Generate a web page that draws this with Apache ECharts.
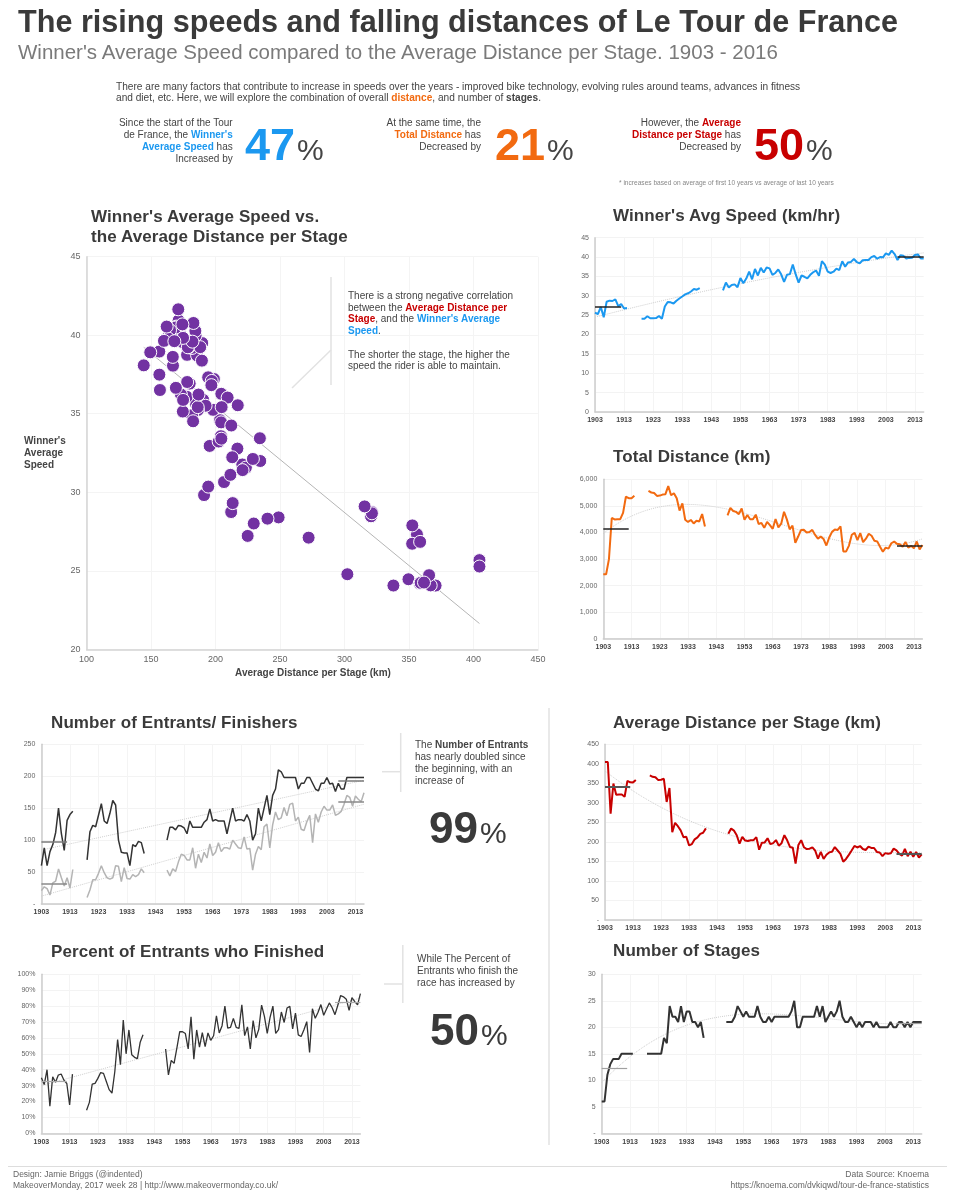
<!DOCTYPE html>
<html>
<head>
<meta charset="utf-8">
<script src="https://cdn.jsdelivr.net/npm/echarts/dist/echarts.min.js"></script>
<style>
  html,body{margin:0;padding:0;background:#fff;}
  body{width:955px;height:1200px;position:relative;overflow:hidden;font-family:'Liberation Sans',Arial,sans-serif;color:#444;}
  #c{position:absolute;left:0;top:0;width:955px;height:1200px;}
  .t{position:absolute;white-space:nowrap;pointer-events:none;}
  .h{font-weight:bold;font-size:17px;line-height:20px;color:#3a3a3a;letter-spacing:0.1px;}
  .n{font-size:10px;line-height:11.7px;color:#444;}
  .b{color:#1b98f0;} .o{color:#f26a10;} .r{color:#c80000;}
  .big{font-weight:bold;font-size:45px;line-height:45px;}
  .pct{font-size:30px;color:#444;margin-left:2px;}
  svg{position:absolute;left:0;top:0;pointer-events:none;}
</style>
</head>
<body>
<div id="c"></div>
<svg width="955" height="1200">
  <g stroke="#e2e2e2" stroke-width="1.5" fill="none">
    <line x1="331" y1="277" x2="331" y2="385"/>
    <line x1="331" y1="350" x2="292" y2="388"/>
    <line x1="400.7" y1="733" x2="400.7" y2="792"/>
    <line x1="382" y1="771.7" x2="400.7" y2="771.7"/>
    <line x1="402.8" y1="945" x2="402.8" y2="1003"/>
    <line x1="384" y1="984" x2="402.8" y2="984"/>
    <line x1="549" y1="708" x2="549" y2="1145"/>
    <line x1="8" y1="1166.5" x2="947" y2="1166.5" stroke="#dddddd" stroke-width="1"/>
  </g>
</svg>

<div class="t" style="left:18px;top:6px;font-weight:bold;font-size:30.6px;line-height:30px;color:#3a3a3a;">The rising speeds and falling distances of Le Tour de France</div>
<div class="t" style="left:18px;top:42px;font-size:20.5px;line-height:20px;color:#7a7a7a;">Winner's Average Speed compared to the Average Distance per Stage. 1903 - 2016</div>
<div class="t n" style="left:116px;top:80.5px;font-size:10.15px;">There are many factors that contribute to increase in speeds over the years - improved bike technology, evolving rules around teams, advances in fitness<br>and diet, etc. Here, we will explore the combination of overall <b class="o">distance</b>, and number of <b>stages</b>.</div>

<div class="t n" style="right:722.3px;top:117.4px;text-align:right;">Since the start of the Tour<br>de France, the <b class="b">Winner's</b><br><b class="b">Average Speed</b> has<br>Increased by</div>
<div class="t" style="left:245px;top:121.9px;"><span class="big b">47</span><span class="pct">%</span></div>

<div class="t n" style="right:474px;top:117.4px;text-align:right;">At the same time, the<br><b class="o">Total Distance</b> has<br>Decreased by</div>
<div class="t" style="left:495px;top:121.9px;"><span class="big o">21</span><span class="pct">%</span></div>

<div class="t n" style="right:214px;top:117.4px;text-align:right;">However, the <b class="r">Average</b><br><b class="r">Distance per Stage</b> has<br>Decreased by</div>
<div class="t" style="left:754px;top:121.9px;"><span class="big r">50</span><span class="pct">%</span></div>

<div class="t" style="left:619px;top:179px;font-size:6.6px;line-height:8px;color:#888;">* increases based on average of first 10 years vs average of last 10 years</div>

<div class="t h" style="left:91px;top:206.8px;">Winner's Average Speed vs.<br>the Average Distance per Stage</div>
<div class="t" style="left:24px;top:435.4px;font-weight:bold;font-size:10px;line-height:12px;color:#444;">Winner's<br>Average<br>Speed</div>
<div class="t" style="left:313px;top:666.5px;transform:translateX(-50%);font-weight:bold;font-size:10px;line-height:12px;color:#444;">Average Distance per Stage (km)</div>
<div class="t n" style="left:348px;top:290px;">There is a strong negative correlation<br>between the <b class="r">Average Distance per</b><br><b class="r">Stage</b>, and the <b class="b">Winner's Average</b><br><b class="b">Speed</b>.<br><br>The shorter the stage, the higher the<br>speed the rider is able to maintain.</div>

<div class="t h" style="left:613px;top:205.8px;">Winner's Avg Speed (km/hr)</div>
<div class="t h" style="left:613px;top:446.8px;">Total Distance (km)</div>
<div class="t h" style="left:613px;top:712.6px;">Average Distance per Stage (km)</div>
<div class="t h" style="left:613px;top:941.4px;">Number of Stages</div>
<div class="t h" style="left:51px;top:713.4px;">Number of Entrants/ Finishers</div>
<div class="t h" style="left:51px;top:941.8px;">Percent of Entrants who Finished</div>

<div class="t n" style="left:415px;top:738.8px;line-height:12px;">The <b>Number of Entrants</b><br>has nearly doubled since<br>the beginning, with an<br>increase of</div>
<div class="t" style="left:429px;top:806px;color:#3a3a3a;"><span class="big" style="font-size:44px;line-height:44px;">99</span><span class="pct" style="color:#3a3a3a;">%</span></div>

<div class="t n" style="left:417px;top:952.5px;line-height:12px;">While The Percent of<br>Entrants who finish the<br>race has increased by</div>
<div class="t" style="left:430px;top:1007.8px;color:#3a3a3a;"><span class="big" style="font-size:44px;line-height:44px;">50</span><span class="pct" style="color:#3a3a3a;">%</span></div>

<div class="t" style="left:13px;top:1169px;font-size:8.5px;line-height:11px;color:#666;">Design: Jamie Briggs (@indented)<br>MakeoverMonday, 2017 week 28 | http://www.makeovermonday.co.uk/</div>
<div class="t" style="right:26px;top:1169px;font-size:8.5px;line-height:11px;color:#666;text-align:right;">Data Source: Knoema<br>https://knoema.com/dvkiqwd/tour-de-france-statistics</div>

<script>
// ---------------- DATA (one entry per Tour edition) ----------------
const years = [
  1903,1904,1905,1906,1907,1908,1909,1910,1911,1912,1913,1914,
  1919,1920,1921,1922,1923,1924,1925,1926,1927,1928,1929,1930,1931,1932,1933,1934,1935,1936,1937,1938,1939,
  1947,1948,1949,1950,1951,1952,1953,1954,1955,1956,
  1957,1958,1959,1960,1961,1962,1963,1964,1965,1966,
  1967,1968,1969,1970,1971,1972,1973,1974,1975,1976,
  1977,1978,1979,1980,1981,1982,1983,1984,1985,1986,
  1987,1988,1989,1990,1991,1992,1993,1994,1995,1996,
  1997,1998,1999,2000,2001,2002,2003,2004,2005,2006,
  2007,2008,2009,2010,2011,2012,2013,2014,2015,2016
];
const winnerSpeed = [
  25.68,25.27,27.11,24.46,28.47,28.74,28.66,29.10,27.32,27.89,26.72,26.84,
  24.06,24.07,24.72,24.20,24.23,24.25,24.78,24.06,27.22,28.40,28.32,28.01,28.74,29.31,29.82,30.36,30.65,31.11,31.77,31.57,31.99,
  31.41,33.44,32.12,32.78,32.95,32.23,34.59,33.23,34.45,36.27,
  34.25,36.92,35.25,37.21,36.03,37.32,37.09,35.42,35.89,36.82,
  35.54,33.57,35.41,35.59,38.08,35.51,33.41,35.24,34.91,34.52,
  35.42,36.08,36.51,35.14,38.96,38.06,36.23,35.88,36.22,37.02,
  36.65,38.91,37.49,38.62,38.75,39.50,38.71,38.38,39.19,39.24,
  39.24,39.98,40.27,39.56,40.02,39.93,40.94,40.55,41.65,40.78,
  39.23,40.49,40.32,39.59,39.79,39.83,40.55,40.69,39.64,39.62
];
const totalDistanceKm = [
  2428,2428,2994,4545,4488,4497,4498,4734,5343,5289,5287,5380,
  5560,5503,5484,5375,5386,5425,5440,5745,5398,5476,5286,4822,5091,4479,4395,4470,4338,4442,4415,4694,4224,
  4640,4922,4808,4773,4690,4898,4476,4656,4495,4498,
  4669,4319,4358,4173,4397,4274,4138,4504,4188,4329,
  4779,4492,4117,4254,3608,3846,4090,4098,3999,4017,
  4096,3908,3765,3842,3753,3507,3809,4021,4109,4094,
  4231,3286,3285,3504,3914,3983,3714,3978,3635,3765,
  3950,3875,3687,3662,3458,3272,3427,3391,3593,3657,
  3570,3554,3459,3642,3430,3496,3404,3660,3360,3529
];
const numberOfStages = [
  6,6,11,13,14,14,14,15,15,15,15,15,
  15,15,15,15,15,15,18,17,24,22,22,21,24,21,23,23,21,21,20,21,18,
  21,21,21,22,24,23,22,23,22,22,
  22,24,22,21,21,22,21,22,22,22,
  22,22,22,23,25,20,20,22,22,22,
  22,22,24,22,24,21,22,23,22,23,
  25,22,21,21,22,21,20,21,20,21,
  21,21,20,21,20,20,20,20,21,20,
  20,21,21,20,21,20,21,21,21,21
];
const numberOfEntrants = [
  60,88,60,82,93,112,150,110,84,131,140,145,
  69,113,123,121,139,157,130,126,142,162,155,100,81,80,80,60,93,90,98,96,79,
  100,120,120,116,123,122,119,110,130,120,
  120,120,120,128,132,149,130,132,130,130,
  130,110,130,150,130,132,132,130,140,130,
  100,110,150,130,150,170,140,170,180,210,
  207,198,198,198,198,198,180,189,189,198,
  198,189,180,177,189,189,198,188,189,176,
  189,180,180,198,198,198,198,198,198,198
];
const numberOfFinishers = [
  21,27,24,14,33,36,55,41,28,41,25,54,
  10,22,38,38,48,60,49,41,39,41,60,59,35,57,40,39,46,43,46,55,49,
  53,44,55,51,66,78,76,69,69,88,
  56,78,65,81,72,94,76,81,96,82,
  88,88,86,100,94,88,87,105,86,87,
  53,78,90,85,121,125,88,124,144,132,
  135,151,138,156,158,130,136,117,115,129,
  139,96,141,128,144,153,147,147,155,139,
  141,145,156,170,167,153,169,164,160,174
];
const yearTickLabels = ['1903','1913','1923','1933','1943','1953','1963','1973','1983','1993','2003','2013'];
const scatterXTicks = [100,150,200,250,300,350,400,450];
const scatterYTicks = [20,25,30,35,40,45];

// ---------------- derived tables ----------------
const avgDistPerStage = totalDistanceKm.map((d, i) => d / numberOfStages[i]);
const percentFinished = numberOfFinishers.map((f, i) => f / numberOfEntrants[i] * 100);

const axisYears = [];
for (let y = years[0]; y <= years[years.length - 1]; y++) axisYears.push(String(y));
function onAxis(vals) {
  const m = {};
  years.forEach((y, i) => { m[y] = vals[i]; });
  return axisYears.map(y => (m[y] === undefined ? null : m[y]));
}
const mean = a => a.reduce((s, v) => s + v, 0) / a.length;
const tt = y => (y - 1960) / 50;
function polyfit(xs, ys, deg) {
  const n = deg + 1;
  const A = [], b = [];
  for (let i = 0; i < n; i++) { A.push(new Array(n).fill(0)); b.push(0); }
  xs.forEach((x, k) => {
    for (let i = 0; i < n; i++) {
      b[i] += ys[k] * Math.pow(x, i);
      for (let j = 0; j < n; j++) A[i][j] += Math.pow(x, i + j);
    }
  });
  for (let c = 0; c < n; c++) {
    let p = c;
    for (let r = c + 1; r < n; r++) if (Math.abs(A[r][c]) > Math.abs(A[p][c])) p = r;
    [A[c], A[p]] = [A[p], A[c]]; [b[c], b[p]] = [b[p], b[c]];
    for (let r = 0; r < n; r++) {
      if (r === c) continue;
      const f = A[r][c] / A[c][c];
      for (let j = c; j < n; j++) A[r][j] -= f * A[c][j];
      b[r] -= f * b[c];
    }
  }
  return b.map((v, i) => v / A[i][i]);
}
const polyval = (c, x) => c.reduce((s, v, i) => s + v * Math.pow(x, i), 0);

// ---------------- layout ----------------
const FONT = "'Liberation Sans', Arial, sans-serif";
const grids = [
  {left: 86.6, top: 256.7, width: 451.3, height: 392.6},   // 0 scatter
  {left: 595, top: 237.7, width: 328.7, height: 174.3},    // 1 speed
  {left: 603.3, top: 479.3, width: 319.1, height: 159.4},  // 2 total distance
  {left: 41.4, top: 744.3, width: 322.6, height: 159.7},   // 3 entrants / finishers
  {left: 41.4, top: 974.3, width: 319, height: 159},       // 4 percent finished
  {left: 605, top: 744.3, width: 316.7, height: 175.7},    // 5 avg distance per stage
  {left: 601.7, top: 974.3, width: 320, height: 159}       // 6 stages
];
const tickStep = axisYears.indexOf(yearTickLabels[1]) - axisYears.indexOf(yearTickLabels[0]) - 1;
function catX(g) {
  return {
    type: 'category', gridIndex: g, data: axisYears, boundaryGap: false,
    axisLine: {show: true, lineStyle: {color: '#cccccc', width: 1.5}},
    axisTick: {show: false},
    axisLabel: {interval: tickStep, color: '#444', fontSize: 7, fontWeight: 'bold', margin: 5, fontFamily: FONT},
    splitLine: {show: true, interval: tickStep, lineStyle: {color: '#f4f4f4', width: 1}}
  };
}
function valY(g, max, interval, fmt) {
  return {
    type: 'value', gridIndex: g, min: 0, max: max, interval: interval,
    axisLine: {show: true, lineStyle: {color: '#cccccc', width: 1.5}},
    axisTick: {show: false},
    axisLabel: {color: '#666', fontSize: 7, margin: 6, formatter: fmt, fontFamily: FONT},
    splitLine: {show: true, lineStyle: {color: '#f3f3f3', width: 1}}
  };
}
const dash = v => (v === 0 ? '-' : String(v));

function refLines(vals, color, width) {
  const n = vals.length;
  const a = mean(vals.slice(0, 10)), b = mean(vals.slice(n - 10));
  return {
    silent: true, symbol: 'none', label: {show: false}, animation: false,
    lineStyle: {color: color, width: width, type: 'solid'},
    emphasis: {disabled: true},
    data: [
      [{coord: [String(years[0]), a]}, {coord: [String(years[9]), a]}],
      [{coord: [String(years[n - 10]), b]}, {coord: [String(years[n - 1]), b]}]
    ]
  };
}
function trendSeries(g, vals, deg) {
  const c = polyfit(years.map(tt), vals, deg);
  return {
    type: 'line', xAxisIndex: g, yAxisIndex: g, silent: true, showSymbol: false, z: 1,
    data: axisYears.map(y => polyval(c, tt(+y))),
    lineStyle: {color: '#cdcdcd', width: 1, type: 'dotted'}
  };
}
function dataSeries(g, vals, color, width, refColor, refWidth) {
  return {
    type: 'line', xAxisIndex: g, yAxisIndex: g, data: onAxis(vals), showSymbol: false,
    connectNulls: false, z: 3, lineStyle: {color: color, width: width}, itemStyle: {color: color},
    markLine: refLines(vals, refColor, refWidth)
  };
}

// scatter regression
const sx = avgDistPerStage, sy = winnerSpeed;
const mx = mean(sx), my = mean(sy);
let sxy = 0, sxx = 0;
sx.forEach((x, i) => { sxy += (x - mx) * (sy[i] - my); sxx += (x - mx) * (x - mx); });
const slope = sxy / sxx, icpt = my - slope * mx;
const xLo = Math.min(...sx), xHi = Math.max(...sx);

const option = {
  animation: false,
  textStyle: {fontFamily: FONT},
  grid: grids.map(g => Object.assign({containLabel: false}, g)),
  xAxis: [
    {
      type: 'value', gridIndex: 0, min: scatterXTicks[0], max: scatterXTicks[scatterXTicks.length - 1], interval: 50,
      axisLine: {show: true, lineStyle: {color: '#d4d4d4', width: 1.5}}, axisTick: {show: false},
      axisLabel: {color: '#666', fontSize: 9, margin: 6},
      splitLine: {show: true, lineStyle: {color: '#f4f4f4'}}
    },
    catX(1), catX(2), catX(3), catX(4), catX(5), catX(6)
  ],
  yAxis: [
    {
      type: 'value', gridIndex: 0, min: scatterYTicks[0], max: scatterYTicks[scatterYTicks.length - 1], interval: 5,
      axisLine: {show: true, lineStyle: {color: '#d4d4d4', width: 1.5}}, axisTick: {show: false},
      axisLabel: {color: '#666', fontSize: 9, margin: 6},
      splitLine: {show: true, lineStyle: {color: '#f4f4f4'}}
    },
    valY(1, 45, 5, v => String(v)),
    valY(2, 6000, 1000, v => v.toLocaleString('en-US')),
    valY(3, 250, 50, dash),
    valY(4, 100, 10, v => v + '%'),
    valY(5, 450, 50, dash),
    valY(6, 30, 5, dash)
  ],
  series: [
    {
      type: 'line', xAxisIndex: 0, yAxisIndex: 0, silent: true, showSymbol: false, z: 1,
      data: [[xLo, icpt + slope * xLo], [xHi, icpt + slope * xHi]],
      lineStyle: {color: '#b5b5b5', width: 1}
    },
    {
      type: 'scatter', xAxisIndex: 0, yAxisIndex: 0, z: 3, symbolSize: 13,
      data: sx.map((x, i) => [x, sy[i]]),
      itemStyle: {color: '#7232a2', borderColor: '#ffffff', borderWidth: 1, opacity: 1}
    },
    trendSeries(1, winnerSpeed, 2),
    dataSeries(1, winnerSpeed, '#1b98f0', 2, '#222222', 1.5),
    trendSeries(2, totalDistanceKm, 3),
    dataSeries(2, totalDistanceKm, '#f26a10', 2, '#222222', 1.5),
    trendSeries(3, numberOfEntrants, 1),
    trendSeries(3, numberOfFinishers, 1),
    dataSeries(3, numberOfFinishers, '#b4b4b4', 1.5, '#8a8a8a', 1.5),
    dataSeries(3, numberOfEntrants, '#333333', 1.5, '#7a7a7a', 1.5),
    trendSeries(4, percentFinished, 1),
    dataSeries(4, percentFinished, '#333333', 1.3, '#aaaaaa', 1.2),
    trendSeries(5, avgDistPerStage, 3),
    dataSeries(5, avgDistPerStage, '#c80000', 2, '#555555', 2),
    trendSeries(6, numberOfStages, 3),
    dataSeries(6, numberOfStages, '#333333', 2, '#a0a0a0', 1.2)
  ]
};
const chart = echarts.init(document.getElementById('c'), null, {renderer: 'canvas'});
chart.setOption(option);
</script>
</body>
</html>
